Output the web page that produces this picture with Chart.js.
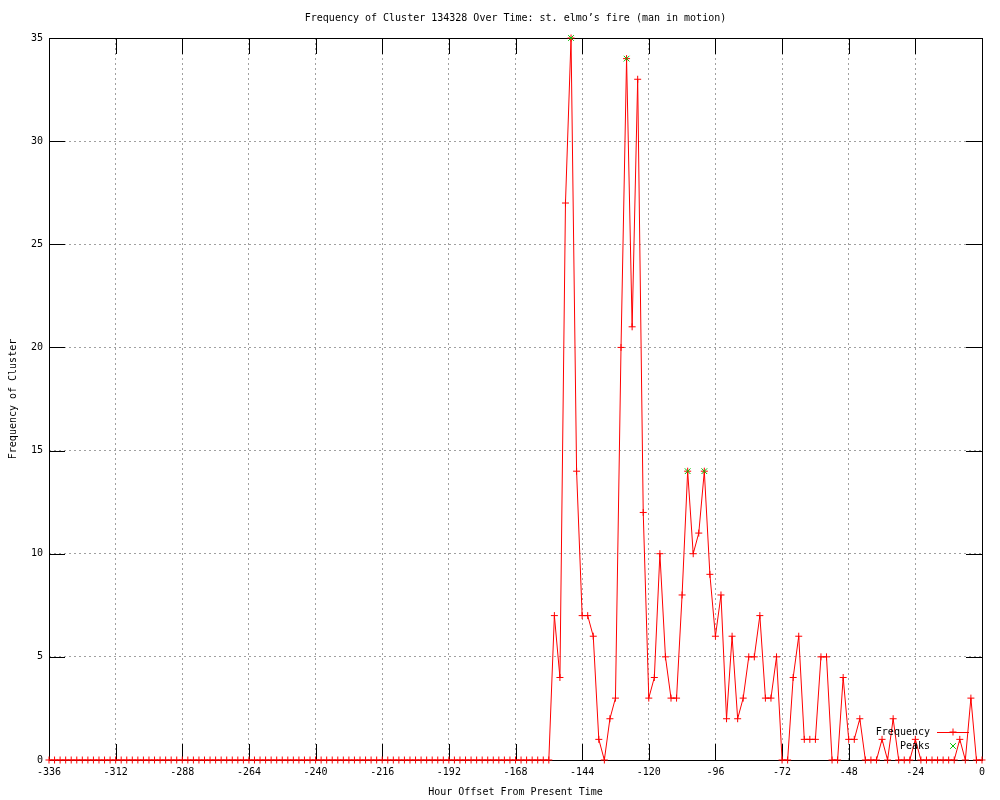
<!DOCTYPE html>
<html>
<head>
<meta charset="utf-8">
<script src="https://cdn.jsdelivr.net/npm/chart.js@4.4.1/dist/chart.umd.min.js"></script>
<style>
  html, body { margin: 0; padding: 0; background: #fff; }
  #wrap { width: 1000px; height: 800px; }
</style>
</head>
<body>
<div id="wrap"><canvas id="c" width="1000" height="800"></canvas></div>
<script>
// ---- data ----
const hours = [
  -336,-334,-332,-330,-328,-326,-324,-322,-320,-318,-316,-314,-312,-310,-308,-306,-304,-302,-300,-298,
  -296,-294,-292,-290,-288,-286,-284,-282,-280,-278,-276,-274,-272,-270,-268,-266,-264,-262,-260,-258,
  -256,-254,-252,-250,-248,-246,-244,-242,-240,-238,-236,-234,-232,-230,-228,-226,-224,-222,-220,-218,
  -216,-214,-212,-210,-208,-206,-204,-202,-200,-198,-196,-194,-192,-190,-188,-186,-184,-182,-180,-178,
  -176,-174,-172,-170,-168,-166,-164,-162,-160,-158,-156,
  -154,-152,-150,-148,-146,-144,-142,-140,-138,-136,-134,-132,-130,-128,-126,-124,-122,-120,-118,-116,
  -114,-112,-110,-108,-106,-104,-102,-100,-98,-96,-94,-92,-90,-88,-86,-84,-82,-80,-78,-76,
  -74,-72,-70,-68,-66,-64,-62,-60,-58,-56,-54,-52,-50,-48,-46,-44,-42,-40,-38,-36,
  -34,-32,-30,-28,-26,-24,-22,-20,-18,-16,-14,-12,-10,-8,-6,-4,-2,0
];
const frequency = [
  0,0,0,0,0,0,0,0,0,0,0,0,0,0,0,0,0,0,0,0,
  0,0,0,0,0,0,0,0,0,0,0,0,0,0,0,0,0,0,0,0,
  0,0,0,0,0,0,0,0,0,0,0,0,0,0,0,0,0,0,0,0,
  0,0,0,0,0,0,0,0,0,0,0,0,0,0,0,0,0,0,0,0,
  0,0,0,0,0,0,0,0,0,0,0,
  7,4,27,35,14,7,7,6,1,0,2,3,20,34,21,33,12,3,4,10,
  5,3,3,8,14,10,11,14,9,6,8,2,6,2,3,5,5,7,3,3,
  5,0,0,4,6,1,1,1,5,5,0,0,4,1,1,2,0,0,0,1,
  0,2,0,0,0,1,0,0,0,0,0,0,0,1,0,3,0,0
];
const peakHours = [-148, -128, -106, -100];
const peakValues = [35, 34, 14, 14];
const xTickStep = 24;
const yTickStep = 5;

const titleText = "Frequency of Cluster 134328 Over Time: st. elmo\u2019s fire (man in motion)";
const xLabel = "Hour Offset From Present Time";
const yLabel = "Frequency of Cluster";
const seriesNames = ["Frequency", "Peaks"];

const RED = '#ff0000';
const GREEN = '#00c000';
const FONT = "'DejaVu Sans Mono', 'Liberation Mono', monospace";

const freqPoints = hours.map((h, i) => ({ x: h, y: frequency[i] }));
const peakPoints = peakHours.map((h, i) => ({ x: h, y: peakValues[i] }));

// title centred over the plot area (gnuplot style)
const titlePlugin = {
  id: 'gpTitle',
  afterDraw(chart) {
    const { ctx, chartArea: a } = chart;
    ctx.save();
    ctx.font = '10px ' + FONT;
    ctx.fillStyle = '#000';
    ctx.textAlign = 'center';
    ctx.textBaseline = 'middle';
    ctx.fillText(titleText, (a.left + a.right) / 2, a.top - 20);
    ctx.restore();
  }
};

// frame + inward ticks (gnuplot style)
const framePlugin = {
  id: 'frame',
  beforeDatasetsDraw(chart) {
    const { ctx, chartArea: a, scales } = chart;
    const tl = 16;
    ctx.save();
    ctx.strokeStyle = '#000';
    ctx.lineWidth = 1;
    ctx.beginPath();
    scales.x.ticks.forEach(t => {
      const px = Math.round(scales.x.getPixelForValue(t.value)) + 0.5;
      ctx.moveTo(px, a.bottom); ctx.lineTo(px, a.bottom - tl);
      ctx.moveTo(px, a.top); ctx.lineTo(px, a.top + tl);
    });
    scales.y.ticks.forEach(t => {
      const py = Math.round(scales.y.getPixelForValue(t.value)) + 0.5;
      ctx.moveTo(a.left, py); ctx.lineTo(a.left + tl, py);
      ctx.moveTo(a.right, py); ctx.lineTo(a.right - tl, py);
    });
    ctx.stroke();
    ctx.strokeRect(Math.round(a.left) + 0.5, Math.round(a.top) + 0.5,
                   Math.round(a.right - a.left), Math.round(a.bottom - a.top));
    ctx.restore();
  }
};

// legend inside plot, bottom right (gnuplot style)
const legendPlugin = {
  id: 'gpLegend',
  afterDatasetsDraw(chart) {
    const { ctx, chartArea: a } = chart;
    const textRight = a.right - 52;
    const sampleL = a.right - 45, sampleR = a.right - 13;
    const sampleC = (sampleL + sampleR) / 2;
    const rows = [a.bottom - 28, a.bottom - 14];
    ctx.save();
    ctx.font = '10px ' + FONT;
    ctx.textAlign = 'right';
    ctx.textBaseline = 'middle';
    chart.data.datasets.forEach((ds, i) => {
      const y = rows[i];
      ctx.fillStyle = '#000';
      ctx.fillText(ds.label, textRight, y);
      ctx.strokeStyle = ds.borderColor;
      ctx.lineWidth = 1;
      if (ds.showLine !== false) {
        ctx.beginPath();
        ctx.moveTo(sampleL, Math.round(y) + 0.5);
        ctx.lineTo(sampleR, Math.round(y) + 0.5);
        ctx.stroke();
      }
      Chart.helpers.drawPoint(ctx, {
        pointStyle: ds.pointStyle, radius: ds.pointRadius, rotation: 0,
        borderWidth: 1
      }, sampleC, y);
    });
    ctx.restore();
  }
};

new Chart(document.getElementById('c'), {
  type: 'line',
  data: {
    datasets: [
      {
        label: seriesNames[0],
        data: freqPoints,
        borderColor: RED,
        backgroundColor: RED,
        borderWidth: 1,
        pointStyle: 'cross',
        pointRadius: 3.5,
        pointBorderColor: RED,
        pointBorderWidth: 1,
        tension: 0,
        fill: false,
        clip: false,
        order: 1
      },
      {
        label: seriesNames[1],
        data: peakPoints,
        borderColor: GREEN,
        backgroundColor: GREEN,
        showLine: false,
        pointStyle: 'crossRot',
        pointRadius: 4,
        pointBorderColor: GREEN,
        pointBorderWidth: 1,
        clip: false,
        order: 0
      }
    ]
  },
  options: {
    responsive: false,
    devicePixelRatio: 1,
    animation: false,
    events: [],
    layout: { padding: { left: 0, right: 18, top: 38, bottom: 0 } },
    plugins: {
      legend: { display: false },
      tooltip: { enabled: false },
      title: { display: false }
    },
    scales: {
      x: {
        type: 'linear',
        min: hours[0],
        max: hours[hours.length - 1],
        afterFit(scale) { scale.height = 40; },
        ticks: {
          stepSize: xTickStep,
          color: '#000',
          padding: 6,
          maxRotation: 0,
          autoSkip: false,
          font: { family: FONT, size: 10 },
          callback: v => String(v)
        },
        grid: { color: '#a0a0a0', lineWidth: 1, drawTicks: false },
        border: { display: false, dash: [2, 3] },
        title: {
          display: true, text: xLabel, color: '#000',
          font: { family: FONT, size: 10 },
          padding: { top: 0, bottom: 2 }
        }
      },
      y: {
        min: 0,
        max: 35,
        afterFit(scale) { scale.width = 49; },
        ticks: {
          stepSize: yTickStep,
          color: '#000',
          padding: 6,
          font: { family: FONT, size: 10 },
          callback: v => String(v)
        },
        grid: { color: '#a0a0a0', lineWidth: 1, drawTicks: false },
        border: { display: false, dash: [2, 3] },
        title: {
          display: true, text: yLabel, color: '#000',
          font: { family: FONT, size: 10 },
          padding: { top: 7, bottom: 0 }
        }
      }
    }
  },
  plugins: [framePlugin, legendPlugin, titlePlugin]
});
</script>
</body>
</html>
